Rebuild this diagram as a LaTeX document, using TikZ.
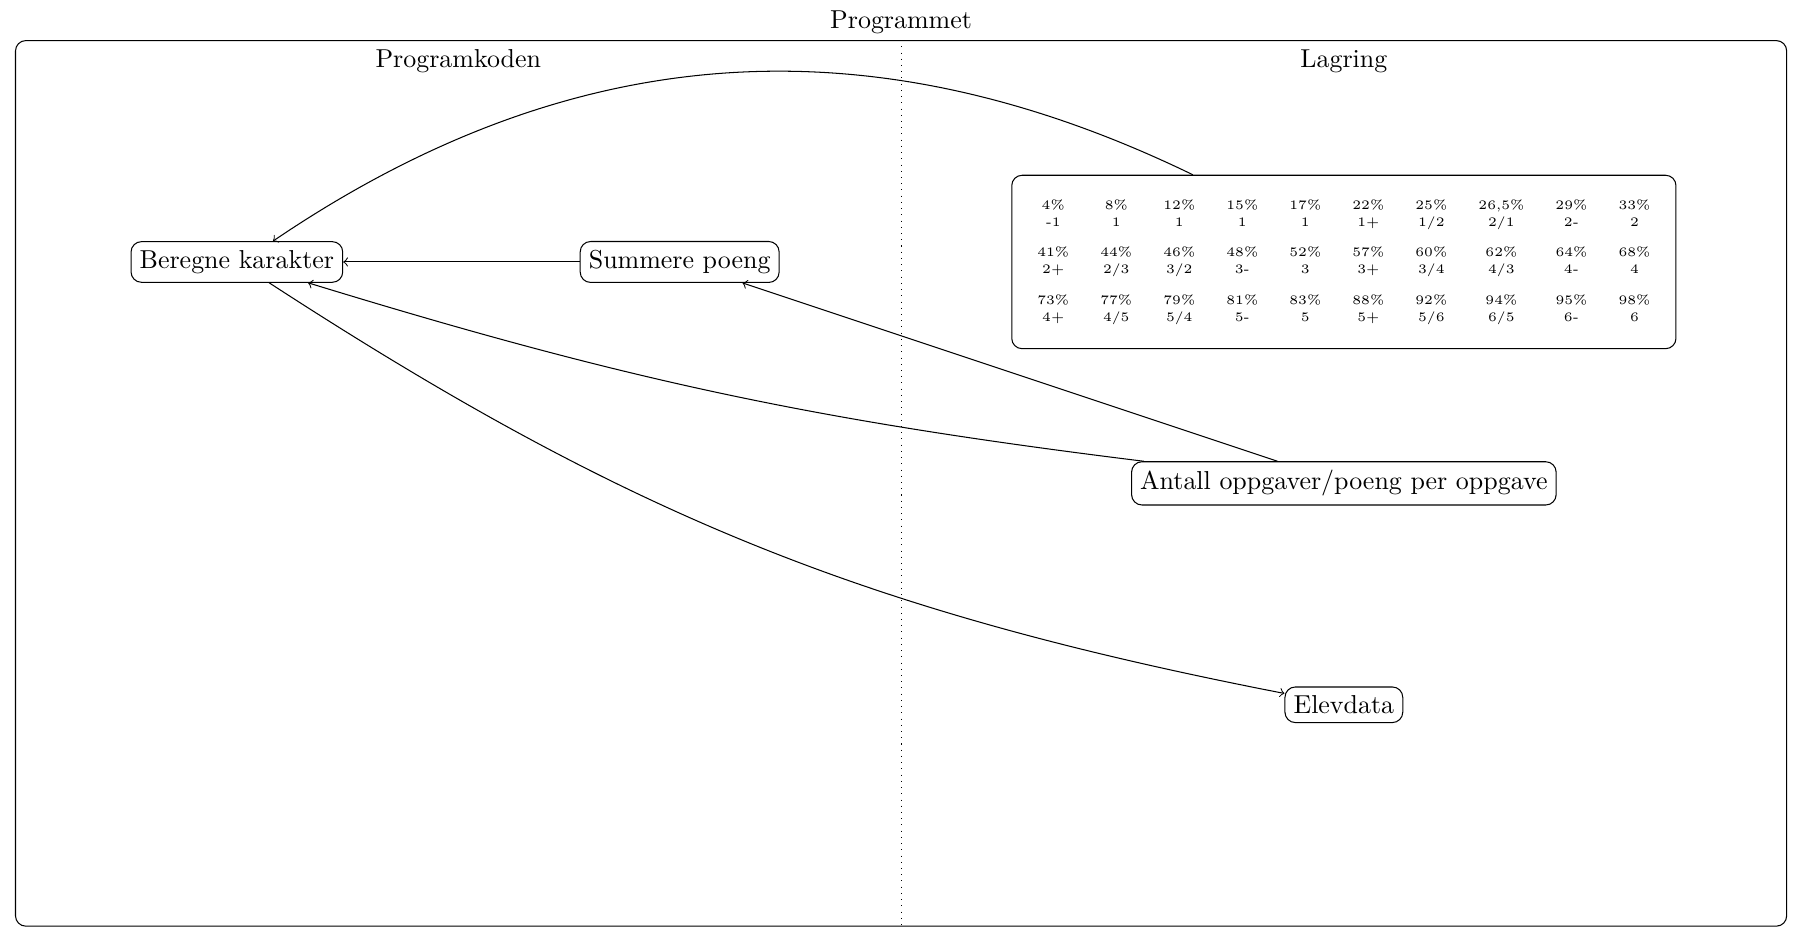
\documentclass[tikz,border=0pt]{standalone}
\usepackage{tikz}
\usetikzlibrary{positioning}

\tikzset{
  boks/.style={draw, rounded corners},
}

\begin{document}
\begin{tikzpicture}
\useasboundingbox (-12.21,-6.21) rectangle (12.14,6.55);
\node[draw, rounded corners, minimum width=24cm, minimum height=12cm, label={[label distance=-1pt]above:Programmet}] (programmet) at (0,0) {};
\draw[dotted] (programmet.north) -- (programmet.south);
\node[below] (programkoden) at (-6,6) {Programkoden};
\node[below] (lagring) at (6,6) {Lagring};

\node[boks] (beregne) at (-9,3) {Beregne karakter};
\node[boks] (summere) at (-3,3) {Summere poeng};
\node[boks, minimum width=9cm, minimum height=2.35cm] (tabell) at (6,3) {\tiny
  \renewcommand{\arraystretch}{1.1}%
  \begin{tabular}{cccccccccc}
  4\% & 8\% & 12\% & 15\% & 17\% & 22\% & 25\% & 26,5\% & 29\% & 33\% \\
  -1 & 1 & 1 & 1 & 1 & 1+ & 1/2 & 2/1 & 2- & 2 \\[5pt]
  41\% & 44\% & 46\% & 48\% & 52\% & 57\% & 60\% & 62\% & 64\% & 68\% \\
  2+ & 2/3 & 3/2 & 3- & 3 & 3+ & 3/4 & 4/3 & 4- & 4 \\[5pt]
  73\% & 77\% & 79\% & 81\% & 83\% & 88\% & 92\% & 94\% & 95\% & 98\% \\
  4+ & 4/5 & 5/4 & 5- & 5 & 5+ & 5/6 & 6/5 & 6- & 6
  \end{tabular}};
\node[boks] (antall) at (6,0) {Antall oppgaver/poeng per oppgave};
\node[boks] (elevdata) at (6,-3) {Elevdata};

\draw[->] (summere) -- (beregne);
\draw[->] (antall) -- (summere);
\draw[->] (antall) to[bend left=5] (beregne);
\draw[->] (tabell) to[bend right=30] (beregne);
\draw[->] (beregne) to[bend right=11] (elevdata);
\end{tikzpicture}
\end{document}
